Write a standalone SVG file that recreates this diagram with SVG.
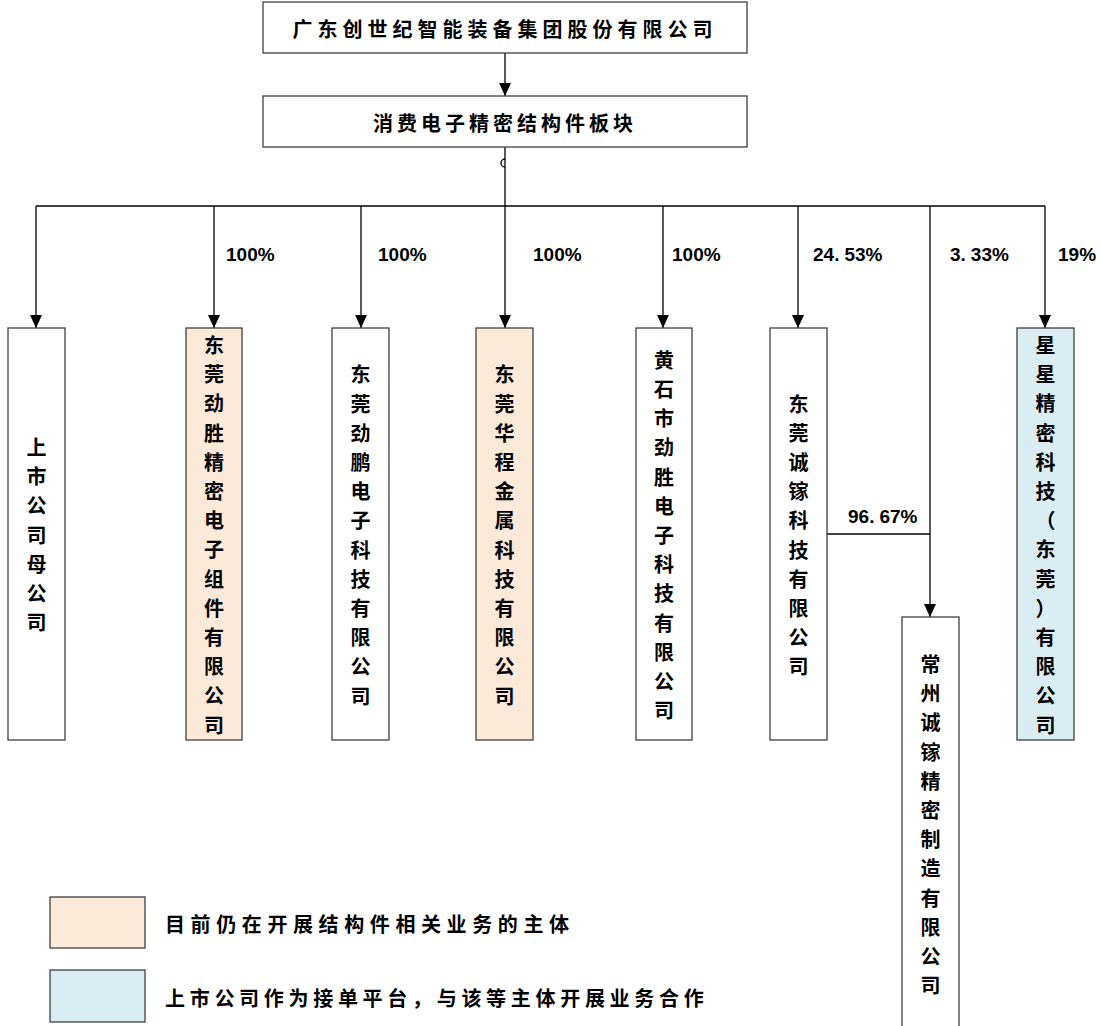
<svg xmlns="http://www.w3.org/2000/svg" width="1101" height="1026" viewBox="0 0 1101 1026">
<style>
.box{fill:#fff;stroke:#404040;stroke-width:1.3}
.or{fill:#fbe9da}
.bl{fill:#daedf3}
.t{font-family:"Noto Sans CJK SC","Noto Sans CJK JP",sans-serif;font-weight:700;font-size:20px;fill:#000}
.v{text-anchor:middle;dominant-baseline:central}
.p{font-family:"Liberation Sans",Arial,sans-serif;font-weight:700;font-size:19px;fill:#000}
.ln{fill:none;stroke:#000;stroke-width:1.3}
</style>
<defs>
<marker id="ah" viewBox="0 0 13 12" refX="13" refY="6" markerWidth="13" markerHeight="12" markerUnits="userSpaceOnUse" orient="auto">
<path d="M0,0 L13,6 L0,12 Z" fill="#000"/>
</marker>
</defs>
<g id="connectors">
<line class="ln" x1="505" y1="53" x2="505" y2="96" marker-end="url(#ah)"/>
<path class="ln" d="M505,147 V206"/>
<path class="ln" d="M505,159 A4,4 0 0 0 505,167"/>
<path class="ln" d="M36,206 H1045"/>
<line class="ln" x1="36" y1="206" x2="36" y2="328" marker-end="url(#ah)"/>
<line class="ln" x1="214" y1="206" x2="214" y2="328" marker-end="url(#ah)"/>
<line class="ln" x1="361" y1="206" x2="361" y2="328" marker-end="url(#ah)"/>
<line class="ln" x1="505" y1="206" x2="505" y2="328" marker-end="url(#ah)"/>
<line class="ln" x1="663" y1="206" x2="663" y2="328" marker-end="url(#ah)"/>
<line class="ln" x1="798" y1="206" x2="798" y2="328" marker-end="url(#ah)"/>
<line class="ln" x1="930" y1="206" x2="930" y2="617" marker-end="url(#ah)"/>
<line class="ln" x1="1045" y1="206" x2="1045" y2="328" marker-end="url(#ah)"/>
<path class="ln" d="M827,534 H930"/>
<text class="p" x="226" y="261">100%</text>
<text class="p" x="378" y="261">100%</text>
<text class="p" x="533" y="261">100%</text>
<text class="p" x="672" y="261">100%</text>
<text class="p" x="813" y="261">24.<tspan dx="5">53%</tspan></text>
<text class="p" x="950" y="261">3.<tspan dx="5">33%</tspan></text>
<text class="p" x="1058" y="261">19%</text>
<text class="p" x="848" y="523">96.<tspan dx="5">67%</tspan></text>
</g>
<g id="n-top">
<rect class="box" x="263" y="2" width="484" height="51"/>
<text class="t" x="505" y="28" text-anchor="middle" dominant-baseline="central" letter-spacing="5">广东创世纪智能装备集团股份有限公司</text>
</g>
<g id="n-seg">
<rect class="box" x="263" y="96" width="484" height="51"/>
<text class="t" x="505" y="122" text-anchor="middle" dominant-baseline="central" letter-spacing="4">消费电子精密结构件板块</text>
</g>
<g id="n1">
<rect class="box" x="8" y="328" width="57" height="412"/>
<text class="t v"><tspan x="36.5" y="446">上</tspan><tspan x="36.5" y="475.2">市</tspan><tspan x="36.5" y="504.4">公</tspan><tspan x="36.5" y="533.6">司</tspan><tspan x="36.5" y="562.8">母</tspan><tspan x="36.5" y="592">公</tspan><tspan x="36.5" y="621.2">司</tspan></text>
</g>
<g id="n2">
<rect class="box or" x="186" y="328" width="56" height="412"/>
<text class="t v"><tspan x="214" y="344">东</tspan><tspan x="214" y="373.2">莞</tspan><tspan x="214" y="402.4">劲</tspan><tspan x="214" y="431.6">胜</tspan><tspan x="214" y="460.8">精</tspan><tspan x="214" y="490">密</tspan><tspan x="214" y="519.2">电</tspan><tspan x="214" y="548.4">子</tspan><tspan x="214" y="577.6">组</tspan><tspan x="214" y="606.8">件</tspan><tspan x="214" y="636">有</tspan><tspan x="214" y="665.2">限</tspan><tspan x="214" y="694.4">公</tspan><tspan x="214" y="723.6">司</tspan></text>
</g>
<g id="n3">
<rect class="box" x="332" y="328" width="57" height="412"/>
<text class="t v"><tspan x="360.5" y="373.4">东</tspan><tspan x="360.5" y="402.6">莞</tspan><tspan x="360.5" y="431.8">劲</tspan><tspan x="360.5" y="461">鹏</tspan><tspan x="360.5" y="490.2">电</tspan><tspan x="360.5" y="519.4">子</tspan><tspan x="360.5" y="548.6">科</tspan><tspan x="360.5" y="577.8">技</tspan><tspan x="360.5" y="607">有</tspan><tspan x="360.5" y="636.2">限</tspan><tspan x="360.5" y="665.4">公</tspan><tspan x="360.5" y="694.6">司</tspan></text>
</g>
<g id="n4">
<rect class="box or" x="476" y="328" width="57" height="412"/>
<text class="t v"><tspan x="504.5" y="373.4">东</tspan><tspan x="504.5" y="402.6">莞</tspan><tspan x="504.5" y="431.8">华</tspan><tspan x="504.5" y="461">程</tspan><tspan x="504.5" y="490.2">金</tspan><tspan x="504.5" y="519.4">属</tspan><tspan x="504.5" y="548.6">科</tspan><tspan x="504.5" y="577.8">技</tspan><tspan x="504.5" y="607">有</tspan><tspan x="504.5" y="636.2">限</tspan><tspan x="504.5" y="665.4">公</tspan><tspan x="504.5" y="694.6">司</tspan></text>
</g>
<g id="n5">
<rect class="box" x="636" y="328" width="56" height="412"/>
<text class="t v"><tspan x="664" y="358.8">黄</tspan><tspan x="664" y="388">石</tspan><tspan x="664" y="417.2">市</tspan><tspan x="664" y="446.4">劲</tspan><tspan x="664" y="475.6">胜</tspan><tspan x="664" y="504.8">电</tspan><tspan x="664" y="534">子</tspan><tspan x="664" y="563.2">科</tspan><tspan x="664" y="592.4">技</tspan><tspan x="664" y="621.6">有</tspan><tspan x="664" y="650.8">限</tspan><tspan x="664" y="680">公</tspan><tspan x="664" y="709.2">司</tspan></text>
</g>
<g id="n6">
<rect class="box" x="770" y="328" width="57" height="412"/>
<text class="t v"><tspan x="798.5" y="402.6">东</tspan><tspan x="798.5" y="431.8">莞</tspan><tspan x="798.5" y="461">诚</tspan><tspan x="798.5" y="490.2">镓</tspan><tspan x="798.5" y="519.4">科</tspan><tspan x="798.5" y="548.6">技</tspan><tspan x="798.5" y="577.8">有</tspan><tspan x="798.5" y="607">限</tspan><tspan x="798.5" y="636.2">公</tspan><tspan x="798.5" y="665.4">司</tspan></text>
</g>
<g id="n7">
<rect class="box" x="902" y="617" width="57" height="420"/>
<text class="t v"><tspan x="930.5" y="663">常</tspan><tspan x="930.5" y="692.2">州</tspan><tspan x="930.5" y="721.4">诚</tspan><tspan x="930.5" y="750.6">镓</tspan><tspan x="930.5" y="779.8">精</tspan><tspan x="930.5" y="809">密</tspan><tspan x="930.5" y="838.2">制</tspan><tspan x="930.5" y="867.4">造</tspan><tspan x="930.5" y="896.6">有</tspan><tspan x="930.5" y="925.8">限</tspan><tspan x="930.5" y="955">公</tspan><tspan x="930.5" y="984.2">司</tspan></text>
</g>
<g id="n8">
<rect class="box bl" x="1017" y="328" width="57" height="412"/>
<text class="t v"><tspan x="1045.5" y="344">星</tspan><tspan x="1045.5" y="373.2">星</tspan><tspan x="1045.5" y="402.4">精</tspan><tspan x="1045.5" y="431.6">密</tspan><tspan x="1045.5" y="460.8">科</tspan><tspan x="1045.5" y="490">技</tspan><tspan x="1045.5" y="519.2">（</tspan><tspan x="1045.5" y="548.4">东</tspan><tspan x="1045.5" y="577.6">莞</tspan><tspan x="1045.5" y="606.8">）</tspan><tspan x="1045.5" y="636">有</tspan><tspan x="1045.5" y="665.2">限</tspan><tspan x="1045.5" y="694.4">公</tspan><tspan x="1045.5" y="723.6">司</tspan></text>
</g>
<g id="legend">
<rect class="box or" x="50" y="897" width="95" height="51"/>
<text class="t" x="165" y="923" dominant-baseline="central" letter-spacing="5.6">目前仍在开展结构件相关业务的主体</text>
<rect class="box bl" x="50" y="970" width="95" height="52"/>
<text class="t" x="165" y="997" dominant-baseline="central" letter-spacing="4.7">上市公司作为接单平台，与该等主体开展业务合作</text>
</g>
</svg>
